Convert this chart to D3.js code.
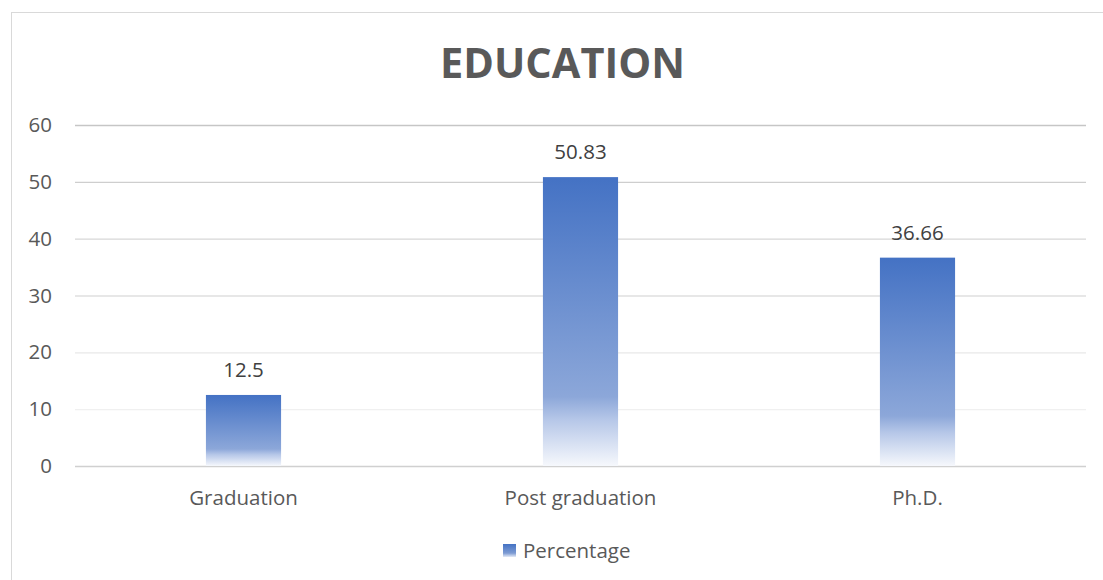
<!DOCTYPE html>
<html>
<head>
<meta charset="utf-8">
<script src="https://cdn.jsdelivr.net/npm/d3@7"></script>
<style>
  html, body { margin: 0; padding: 0; background: #ffffff; }
  svg { display: block; }
</style>
</head>
<body>
<svg id="chart" width="1103" height="580"></svg>
<script>
// Education level breakdown
const categories = ["Graduation", "Post graduation", "Ph.D."];
const percentage = [12.5, 50.83, 36.66];
const yTicks = [0, 10, 20, 30, 40, 50, 60];
const seriesName = "Percentage";
const chartTitle = "EDUCATION";

const W = 1103, H = 580;
const margin = { left: 75, right: 17, top: 125, bottom: 114 };
const font = "'Open Sans', 'Noto Sans', sans-serif";
const labelSize = 20.5;

const svg = d3.select("#chart");
const defs = svg.append("defs");

// Bar fill: solid blue fading to near-white at the base
const grad = defs.append("linearGradient")
  .attr("id", "barFill")
  .attr("x1", 0).attr("y1", 0).attr("x2", 0).attr("y2", 1);
grad.append("stop").attr("offset", "0%").attr("stop-color", "#4472C4");
grad.append("stop").attr("offset", "76%").attr("stop-color", "#8CA7D9");
grad.append("stop").attr("offset", "84%").attr("stop-color", "#B6C7E8");
grad.append("stop").attr("offset", "100%").attr("stop-color", "#F6F8FC");

const legGrad = defs.append("linearGradient")
  .attr("id", "legFill")
  .attr("x1", 0).attr("y1", 0).attr("x2", 0).attr("y2", 1);
legGrad.append("stop").attr("offset", "0%").attr("stop-color", "#4472C4");
legGrad.append("stop").attr("offset", "70%").attr("stop-color", "#7D9BD3");
legGrad.append("stop").attr("offset", "100%").attr("stop-color", "#E4EAF6");

// Chart frame
svg.append("rect")
  .attr("x", 11.5).attr("y", 12.5)
  .attr("width", W + 10).attr("height", H + 10)
  .attr("fill", "#ffffff")
  .attr("stroke", "#d9d9d9").attr("stroke-width", 1);

const x = d3.scaleBand()
  .domain(categories)
  .range([margin.left, W - margin.right])
  .paddingInner(0.777)
  .paddingOuter(0.3885);

const y = d3.scaleLinear()
  .domain([0, 60])
  .range([H - margin.bottom, margin.top]);

// Gridlines, darker at the top and paler toward the base
const gridColor = d3.scaleLinear()
  .domain([60, 10])
  .range(["#c6c6c6", "#f0f0f0"]);

const gridAxis = d3.axisLeft(y)
  .tickValues(yTicks)
  .tickSize(-(W - margin.right - margin.left))
  .tickFormat("");
const gridG = svg.append("g")
  .attr("transform", `translate(${margin.left},0)`)
  .call(gridAxis);
gridG.select(".domain").remove();
gridG.selectAll(".tick line")
  .attr("stroke", d => d === 0 ? "#d0d0d0" : gridColor(d))
  .attr("stroke-width", d => d === 0 ? 1.6 : 1.3);

// Y tick labels
const yAxis = d3.axisLeft(y)
  .tickValues(yTicks)
  .tickSize(0)
  .tickPadding(23);
const yG = svg.append("g")
  .attr("transform", `translate(${margin.left},0)`)
  .call(yAxis);
yG.select(".domain").remove();
yG.selectAll("text")
  .attr("font-family", font)
  .attr("font-size", labelSize)
  .attr("fill", "#595959");

// X category labels
const xAxis = d3.axisBottom(x).tickSize(0);
const xG = svg.append("g")
  .attr("transform", `translate(0,${H - margin.bottom})`)
  .call(xAxis);
xG.select(".domain").remove();
xG.selectAll("text")
  .attr("y", 39)
  .attr("dy", null)
  .attr("font-family", font)
  .attr("font-size", labelSize)
  .attr("fill", "#595959");

// Bars
svg.append("g").selectAll("rect")
  .data(categories)
  .join("rect")
  .attr("x", d => x(d))
  .attr("width", x.bandwidth())
  .attr("y", (d, i) => y(percentage[i]))
  .attr("height", (d, i) => y(0) - y(percentage[i]))
  .attr("fill", "url(#barFill)");

// Value labels
svg.append("g").selectAll("text")
  .data(categories)
  .join("text")
  .attr("x", d => x(d) + x.bandwidth() / 2)
  .attr("y", (d, i) => y(percentage[i]) - 18)
  .attr("text-anchor", "middle")
  .attr("font-family", font)
  .attr("font-size", labelSize)
  .attr("fill", "#404040")
  .text((d, i) => percentage[i]);

// Title
svg.append("text")
  .attr("x", 562.5)
  .attr("y", 78)
  .attr("text-anchor", "middle")
  .attr("font-family", font)
  .attr("font-weight", "bold")
  .attr("font-size", 41.5)
  .attr("fill", "#595959")
  .text(chartTitle);

// Legend
const leg = svg.append("g").attr("transform", "translate(503,544)");
leg.append("rect")
  .attr("width", 13).attr("height", 13)
  .attr("fill", "url(#legFill)");
leg.append("text")
  .attr("x", 20).attr("y", 14)
  .attr("font-family", font)
  .attr("font-size", labelSize)
  .attr("fill", "#595959")
  .text(seriesName);
</script>
</body>
</html>
